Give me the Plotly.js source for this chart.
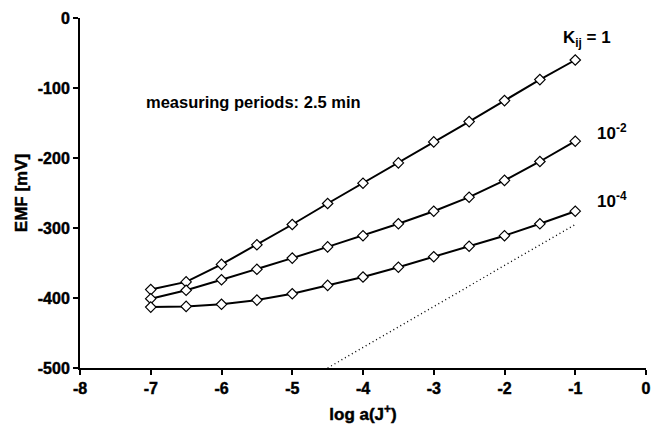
<!DOCTYPE html>
<html><head><meta charset="utf-8">
<script src="https://cdn.plot.ly/plotly-3.0.1.min.js"></script>
<style>html,body{margin:0;padding:0;background:#fff}#chart{width:651px;height:424px}
#chart svg text{font-weight:700 !important}
#chart .xtick text, #chart .ytick text, #chart .g-xtitle text, #chart .g-ytitle text{stroke:#000;stroke-width:0.45px}</style>
</head><body><div id="chart"></div>
<script>
const logA = [-7, -6.5, -6, -5.5, -5, -4.5, -4, -3.5, -3, -2.5, -2, -1.5, -1];
const emfK1 = [-388, -377, -352, -324, -295, -265, -236, -207, -177, -148, -118, -88, -60];
const emfK1e2 = [-401, -389, -374, -359, -343, -327, -311, -294, -276, -256, -232, -205, -176];
const emfK1e4 = [-413, -412, -409, -403, -394, -382, -370, -356, -341, -326, -311, -294, -276];
const nernstX = [-4.5, -1];
const nernstY = [-500, -295];
const seriesLabels = ["K<sub>ij</sub> = 1", "10<sup>-2</sup>", "10<sup>-4</sup>"];
const xTicks = [-8, -7, -6, -5, -4, -3, -2, -1, 0];
const yTicks = [-500, -400, -300, -200, -100, 0];

const FONT = "Liberation Sans, Arial, Helvetica, sans-serif";
function series(y) {
  return {x: logA, y: y, mode: "lines+markers", type: "scatter",
    line: {color: "#000", width: 2},
    marker: {symbol: "diamond", size: 8, color: "#fff", line: {width: 1.2, color: "#000"}},
    showlegend: false, hoverinfo: "skip"};
}
const traces = [
  {x: nernstX, y: nernstY, mode: "lines", type: "scatter", line: {color: "#000", width: 1.4, dash: "1px,3px"}, showlegend: false, hoverinfo: "skip"},
  series(emfK1), series(emfK1e2), series(emfK1e4)
];
const annPos = [
  {x: -0.83, y: -30, xa: "center"},
  {x: -0.72, y: -163, xa: "left"},
  {x: -0.72, y: -260, xa: "left"}
];
const annotations = seriesLabels.map((t, i) => ({
  x: annPos[i].x, y: annPos[i].y, xref: "x", yref: "y", text: "<b>" + t + "</b>", showarrow: false,
  xanchor: annPos[i].xa, yanchor: "middle", font: {family: FONT, size: 17, color: "#000", weight: 700}
}));
annotations.push({x: -7.1, y: -120, xref: "x", yref: "y", text: "<b>measuring periods: 2.5 min</b>", showarrow: false,
  xanchor: "left", yanchor: "middle", font: {family: FONT, size: 16.5, color: "#000", weight: 700}});

const axisCommon = {
  showgrid: false, zeroline: false, showline: true, linecolor: "#000", linewidth: 2,
  ticks: "outside", ticklen: 5, tickwidth: 2, tickcolor: "#000",
  tickfont: {family: FONT, size: 16, color: "#000", weight: 700}
};
const layout = {
  width: 651, height: 424,
  margin: {l: 80, r: 5, t: 18, b: 56},
  paper_bgcolor: "#fff", plot_bgcolor: "#fff",
  xaxis: Object.assign({}, axisCommon, {range: [-8, 0], tickvals: xTicks, ticktext: xTicks.map(String),
    title: {text: "<b>log a(J<sup>+</sup>)</b>", font: {family: FONT, size: 17, color: "#000", weight: 700}, standoff: 13}}),
  yaxis: Object.assign({}, axisCommon, {range: [-500, 0], tickvals: yTicks, ticktext: yTicks.map(String),
    title: {text: "<b>EMF [mV]</b>", font: {family: FONT, size: 17, color: "#000", weight: 700}, standoff: 6}}),
  annotations: annotations
};
Plotly.newPlot("chart", traces, layout, {displayModeBar: false, staticPlot: true});
</script></body></html>
